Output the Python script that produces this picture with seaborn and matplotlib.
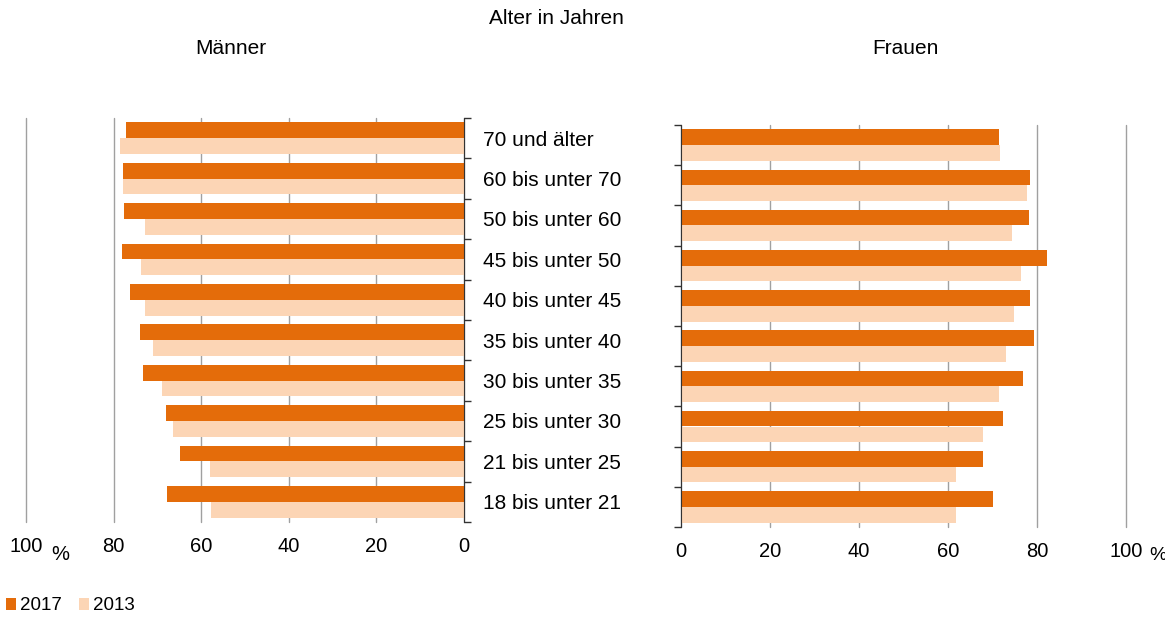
import pandas as pd
import matplotlib.pyplot as plt
import seaborn as sns
from matplotlib.patches import Patch
from matplotlib.ticker import FixedLocator

# age groups, top to bottom
age_groups = ["70 und älter", "60 bis unter 70", "50 bis unter 60", "45 bis unter 50",
              "40 bis unter 45", "35 bis unter 40", "30 bis unter 35", "25 bis unter 30",
              "21 bis unter 25", "18 bis unter 21"]

men_2017 = [77.2, 77.9, 77.7, 78.0, 76.2, 74.0, 73.4, 68.0, 64.9, 67.7]
men_2013 = [78.5, 77.9, 72.8, 73.8, 72.9, 70.9, 69.0, 66.4, 58.1, 57.8]
women_2017 = [71.5, 78.4, 78.1, 82.2, 78.4, 79.4, 76.9, 72.4, 67.8, 70.1]
women_2013 = [71.6, 77.8, 74.4, 76.3, 74.8, 73.1, 71.5, 67.8, 61.9, 61.7]

years = ["2017", "2013"]
x_ticks = [0, 20, 40, 60, 80, 100]
colors = {"2017": "#E46C0A", "2013": "#FCD5B5"}


def long_df(v2017, v2013):
    return pd.DataFrame({
        "Alter": age_groups * 2,
        "Jahr": ["2017"] * len(age_groups) + ["2013"] * len(age_groups),
        "Wert": v2017 + v2013,
    })


df_m = long_df(men_2017, men_2013)
df_w = long_df(women_2017, women_2013)

sns.set_style("white")
plt.rcParams["font.family"] = ["Liberation Sans", "DejaVu Sans"]
plt.rcParams["text.color"] = "black"

fig = plt.figure(figsize=(11.65, 6.21), dpi=100)
ax_m = fig.add_axes([26 / 1165, 1 - 522 / 621, 438 / 1165, 404 / 621])
ax_w = fig.add_axes([681 / 1165, 1 - 527 / 621, 445 / 1165, 402 / 621])

for ax, df in [(ax_m, df_m), (ax_w, df_w)]:
    sns.barplot(data=df, x="Wert", y="Alter", hue="Jahr", order=age_groups,
                hue_order=years, palette=colors, saturation=1, orient="h", width=0.78,
                linewidth=0, errorbar=None, legend=False, ax=ax)
    ax.set_xlabel("")
    ax.set_ylabel("")
    for s in ax.spines.values():
        s.set_visible(False)
    ax.set_xticks(x_ticks)
    ax.set_xticklabels([str(t) for t in x_ticks])
    ax.tick_params(axis="x", length=0, pad=11, labelsize=14.5, labelcolor="black")
    ax.grid(axis="x", color="#a0a0a0", linewidth=1)
    ax.grid(axis="y", visible=False)
    for gl in ax.get_xgridlines():
        gl.set_clip_on(False)
    ax.set_axisbelow(True)
    ax.yaxis.set_minor_locator(FixedLocator([i - 0.5 for i in range(len(age_groups) + 1)]))
    ax.tick_params(axis="y", which="minor", length=5, width=1, color="#333333")
    ax.set_ylim(len(age_groups) - 0.5, -0.5)

# men: mirrored, category labels on the right side
ax_m.set_xlim(100, 0)
ax_m.spines["right"].set_visible(True)
ax_m.spines["right"].set_color("#333333")
ax_m.yaxis.tick_right()
ax_m.tick_params(axis="y", which="major", length=0, pad=13.5, labelsize=15,
                 labelcolor="black")
ax_m.tick_params(axis="y", which="minor", right=True, left=False)

# women
ax_w.set_xlim(0, 100)
ax_w.spines["left"].set_visible(True)
ax_w.spines["left"].set_color("#333333")
ax_w.set_yticklabels([])
ax_w.tick_params(axis="y", which="major", length=0)
ax_w.tick_params(axis="y", which="minor", left=True, right=False)

fig.text(556 / 1165, 1 - 18 / 621, "Alter in Jahren", ha="center", va="center", fontsize=15)
fig.text(231 / 1165, 1 - 48 / 621, "Männer", ha="center", va="center", fontsize=15)
fig.text(905 / 1165, 1 - 48 / 621, "Frauen", ha="center", va="center", fontsize=15)
fig.text(60 / 1165, 1 - 554 / 621, "%", ha="center", va="center", fontsize=14.5)
fig.text(1149 / 1165, 1 - 556 / 621, "%", ha="left", va="center", fontsize=14)

handles = [Patch(facecolor=colors[y], edgecolor="none", label=y) for y in years]
fig.legend(handles=handles, loc="center left", bbox_to_anchor=(6 / 1165, 1 - 606 / 621),
           ncol=2, frameon=False, fontsize=13.5, handlelength=0.55, handleheight=0.55,
           handletextpad=0.2, columnspacing=0.9, borderpad=0, borderaxespad=0,
           labelcolor="black")

fig.savefig("out.png", dpi=100)
